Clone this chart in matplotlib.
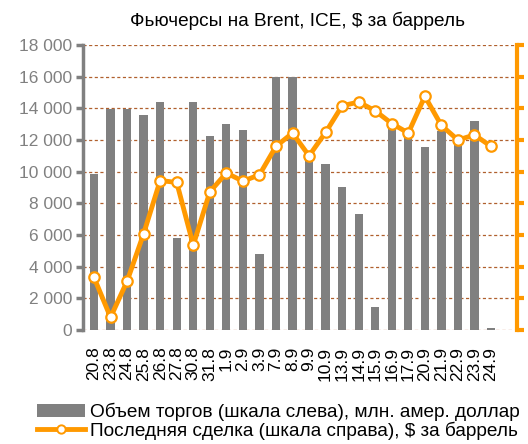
import matplotlib
matplotlib.use("Agg")
import matplotlib.pyplot as plt
import matplotlib.ticker as ticker
from matplotlib.patches import Patch
from matplotlib.lines import Line2D

plt.rcParams['font.family'] = ['Liberation Sans', 'DejaVu Sans']

# dates of trading days
dates = ["20.8", "23.8", "24.8", "25.8", "26.8", "27.8", "30.8", "31.8", "1.9", "2.9",
         "3.9", "7.9", "8.9", "9.9", "10.9", "13.9", "14.9", "15.9", "16.9", "17.9",
         "20.9", "21.9", "22.9", "23.9", "24.9"]
# trading volume, mln USD (left scale)
volume = [9850, 13950, 13950, 13580, 14400, 5800, 14400, 12250, 13000, 12630,
          4800, 16000, 16000, 11000, 10500, 9050, 7330, 1470, 12760, 12150,
          11580, 12590, 12200, 13220, 150]
# last deal, $ per barrel (right scale, no labels shown)
last_price = [45.83, 45.20, 45.77, 46.52, 47.36, 47.33, 46.34, 47.18, 47.48, 47.35,
              47.45, 47.90, 48.11, 47.75, 48.12, 48.54, 48.60, 48.46, 48.26, 48.11,
              48.69, 48.23, 48.00, 48.08, 47.90]

grey = '#808080'
orange = '#FF9900'

fig = plt.figure(figsize=(5.28, 4.44), dpi=100)
ax = fig.add_axes([83/528, 114/444, 434/528, 285/444])
x = list(range(len(dates)))

# gridlines
for v in range(2000, 18001, 2000):
    ax.axhline(v, color='#B0602E', lw=0.9, ls=(0, (2.5, 2)), zorder=0)
ax.axhline(0, color='#E0A890', lw=1.0, ls=(0, (2.5, 2)), zorder=0)

ax.bar(x, volume, width=0.5, color=grey, zorder=2)
ax.set_ylim(0, 18000)
ax.set_xlim(-0.665, 25.57)
ax.yaxis.set_major_locator(ticker.MultipleLocator(2000))
ax.yaxis.set_major_formatter(ticker.FuncFormatter(lambda v, p: "{:,.0f}".format(v).replace(",", " ")))
ax.set_xticks(x)
ax.set_xticklabels(dates, rotation=90, fontsize=12.5)
ax.tick_params(axis='x', length=0, pad=12)
ax.tick_params(axis='y', colors=grey, labelsize=12.5, length=5, width=2.5, direction='out', pad=3)
for s in ['top', 'right', 'bottom']:
    ax.spines[s].set_visible(False)
ax.spines['left'].set_color(grey)
ax.spines['left'].set_linewidth(2.5)

ax2 = ax.twinx()
ax2.plot(x, last_price, color=orange, lw=3.5, marker='o', markersize=7.5,
         markerfacecolor='white', markeredgecolor=orange, markeredgewidth=1.6, zorder=3)
ax2.set_ylim(45, 49.5)
ax2.yaxis.set_major_locator(ticker.MultipleLocator(0.5))
ax2.tick_params(axis='y', colors=orange, length=5, width=3, direction='out', labelright=False)
for s in ['top', 'left', 'bottom']:
    ax2.spines[s].set_visible(False)
ax2.spines['right'].set_color(orange)
ax2.spines['right'].set_linewidth(3)

fig.text(0.563, 0.952, "Фьючерсы на Brent, ICE, $ за баррель", ha='center', va='center', fontsize=13.7)

handles = [Patch(facecolor=grey, edgecolor='none'),
           Line2D([0], [0], color=orange, lw=3.5, marker='o', markersize=6,
                  markerfacecolor='white', markeredgecolor=orange, markeredgewidth=1.4)]
labels = ["Объем торгов (шкала слева), млн. амер. доллар",
          "Последняя сделка (шкала справа), $ за баррель"]
fig.legend(handles, labels, loc='lower left', bbox_to_anchor=(0.045, -0.02), frameon=False,
           fontsize=13.7, handlelength=2.5, handleheight=0.7, handletextpad=0.3,
           labelspacing=0.0, borderpad=0.2)

fig.savefig("out.png", dpi=100)
